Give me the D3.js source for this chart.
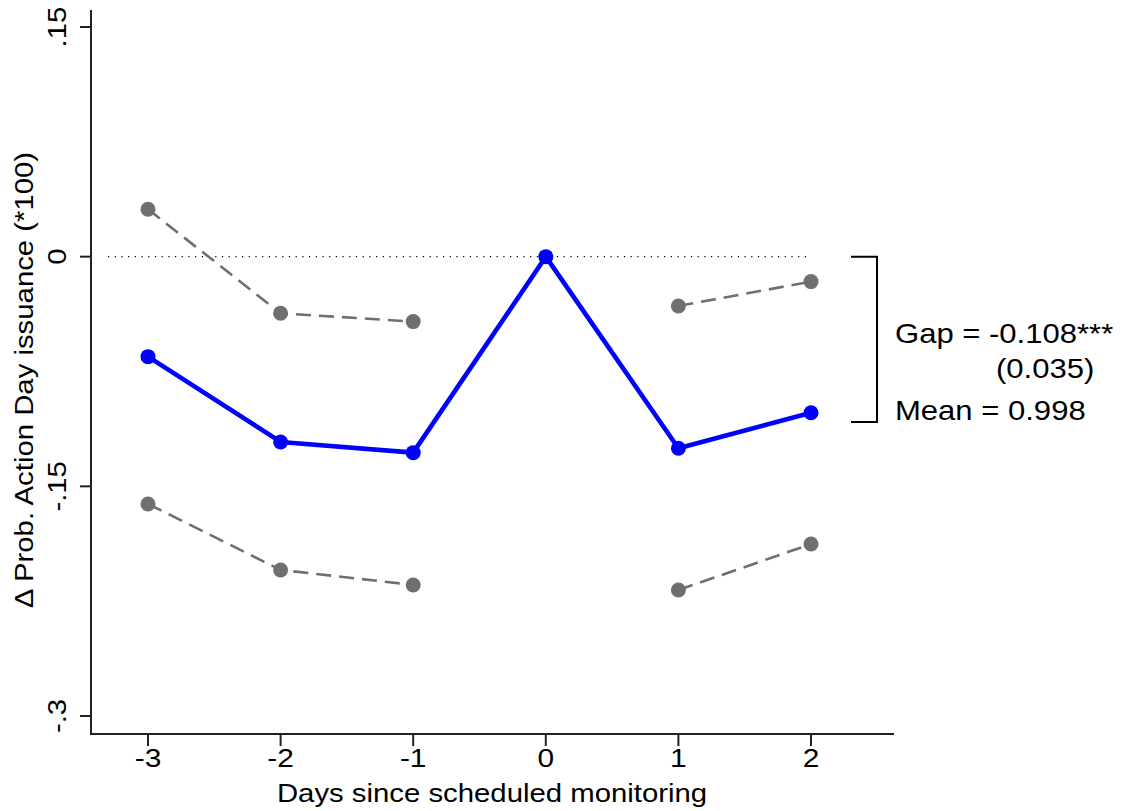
<!DOCTYPE html>
<html>
<head>
<meta charset="utf-8">
<script src="https://cdn.jsdelivr.net/npm/d3@7"></script>
<style>
  html, body { margin: 0; padding: 0; background: #fff; }
  text { font-family: "Liberation Sans", Arial, Helvetica, sans-serif; fill: #000; }
</style>
</head>
<body>
<svg id="chart" width="1123" height="811"></svg>
<script>
// ---- data ----
const days = [-3, -2, -1, 0, 1, 2];
const estimate = [-0.0653, -0.1210, -0.1280, 0, -0.1251, -0.1019];
const upperCI = [0.0310, -0.0370, -0.0424, null, -0.0322, -0.0163];
const lowerCI = [-0.1615, -0.2046, -0.2144, null, -0.2177, -0.1877];
const xTicks = [-3, -2, -1, 0, 1, 2];
const yTicks = [0.15, 0, -0.15, -0.3];
const yTickLabels = [".15", "0", "-.15", "-.3"];
const gapValue = -0.108;
const gapText = "Gap = -0.108***";
const seText = "(0.035)";
const meanText = "Mean = 0.998";
const xTitle = "Days since scheduled monitoring";
const yTitle = "\u0394 Prob. Action Day issuance (*100)";

// ---- layout ----
const svg = d3.select("#chart");
const axisLeft = 91, axisBottom = 734, axisTop = 10, axisRight = 894;
const stretch = 1.15;

const x = d3.scaleLinear().domain([-3, 2]).range([148, 811]);
const y = d3.scaleLinear().domain([-0.3, 0.15]).range([716, 27]);

const axisColor = "#222";

// axes lines
svg.append("line").attr("x1", axisLeft).attr("x2", axisLeft)
  .attr("y1", axisTop).attr("y2", axisBottom + 1)
  .attr("stroke", axisColor).attr("stroke-width", 2);
svg.append("line").attr("x1", axisLeft).attr("x2", axisRight)
  .attr("y1", axisBottom).attr("y2", axisBottom)
  .attr("stroke", axisColor).attr("stroke-width", 2);

// y ticks
const yAxisG = svg.append("g");
yTicks.forEach((t, i) => {
  yAxisG.append("line").attr("x1", axisLeft - 11).attr("x2", axisLeft)
    .attr("y1", y(t)).attr("y2", y(t)).attr("stroke", axisColor).attr("stroke-width", 2);
  yAxisG.append("text")
    .attr("transform", `translate(66,${y(t)}) rotate(-90) scale(${stretch},1)`)
    .attr("text-anchor", "middle").attr("font-size", 25.5)
    .text(yTickLabels[i]);
});

// x ticks
const xAxisG = svg.append("g");
xTicks.forEach(t => {
  xAxisG.append("line").attr("x1", x(t)).attr("x2", x(t))
    .attr("y1", axisBottom).attr("y2", axisBottom + 12).attr("stroke", axisColor).attr("stroke-width", 2);
  xAxisG.append("text")
    .attr("transform", `translate(${x(t)},767) scale(${stretch},1)`)
    .attr("text-anchor", "middle").attr("font-size", 26)
    .text(d3.format("d")(t).replace("−", "-"));
});

// axis titles
svg.append("text")
  .attr("transform", `translate(492,802) scale(${stretch},1)`)
  .attr("text-anchor", "middle").attr("font-size", 25.5).text(xTitle);
svg.append("text")
  .attr("transform", `translate(33,380) rotate(-90) scale(${stretch},1)`)
  .attr("text-anchor", "middle").attr("font-size", 25.5).text(yTitle);

// zero reference dotted line
svg.append("line").attr("x1", 108).attr("x2", x(2))
  .attr("y1", y(0)).attr("y2", y(0))
  .attr("stroke", "#000").attr("stroke-width", 1.2).attr("stroke-dasharray", "1.2,5.5");

const gray = "#6f6f6f";
const blue = "#0000ff";

// CI dashed lines (broken at day 0)
const lineGen = d3.line().defined(d => d.v !== null).x(d => x(d.d)).y(d => y(d.v));
[upperCI, lowerCI].forEach(arr => {
  const pts = days.map((d, i) => ({ d, v: arr[i] }));
  svg.append("path").datum(pts).attr("d", lineGen)
    .attr("fill", "none").attr("stroke", gray).attr("stroke-width", 2.6)
    .attr("stroke-dasharray", "15,8");
  svg.selectAll(null).data(pts.filter(p => p.v !== null)).enter().append("circle")
    .attr("cx", p => x(p.d)).attr("cy", p => y(p.v)).attr("r", 7.5).attr("fill", gray);
});

// estimate line
const estPts = days.map((d, i) => ({ d, v: estimate[i] }));
svg.append("path").datum(estPts).attr("d", lineGen)
  .attr("fill", "none").attr("stroke", blue).attr("stroke-width", 4.6)
  .attr("stroke-linejoin", "round");
svg.selectAll(null).data(estPts).enter().append("circle")
  .attr("cx", p => x(p.d)).attr("cy", p => y(p.v)).attr("r", 7.5).attr("fill", blue);

// bracket
const bx = 877, bl = 851;
svg.append("path")
  .attr("d", `M${bl},${y(0)} H${bx} V${y(gapValue)} H${bl}`)
  .attr("fill", "none").attr("stroke", "#000").attr("stroke-width", 2);

// annotations
svg.append("text").attr("transform", `translate(895,343) scale(${stretch},1)`)
  .attr("font-size", 27).text(gapText);
svg.append("text").attr("transform", `translate(996,378) scale(${stretch},1)`)
  .attr("font-size", 27).text(seText);
svg.append("text").attr("transform", `translate(895,420) scale(${stretch},1)`)
  .attr("font-size", 27).text(meanText);
</script>
</body>
</html>
